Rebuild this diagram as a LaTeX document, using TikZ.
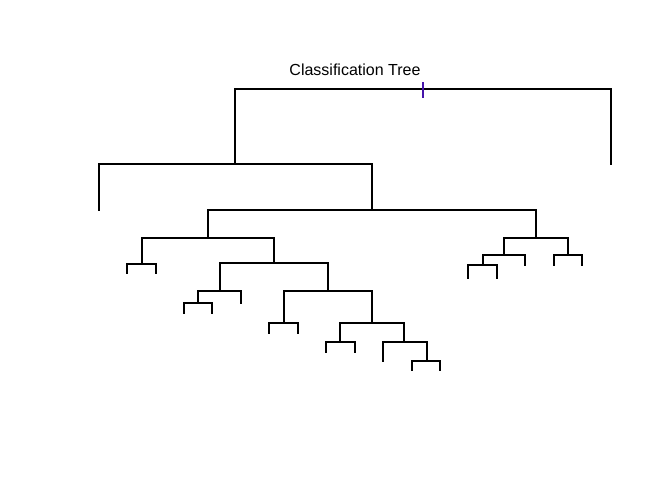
\documentclass[tikz,border=0pt]{standalone}
\usepackage{fontspec}
\setmainfont{Liberation Sans}
\usepackage{tikz}
\usepackage{xcolor}
\definecolor{tickviolet}{RGB}{70,20,170}
\tikzset{
    tree-edge/.style = {draw=black, line width=0.8pt, line cap=rect},
    tree-tick/.style = {draw=tickviolet, line width=0.8pt},
    tree-title/.style = {font=\fontsize{12}{14}\selectfont, inner sep=0pt},
}

\begin{document}
\begin{tikzpicture}[x=0.75pt, y=-0.75pt]
\useasboundingbox (0,0) rectangle (672,480);
\node[tree-title] (title) at (355,70) {Classification Tree};

% split points (x of the incoming leg, y of the bar)
\coordinate (n1) at (423,89);
\coordinate (n2) at (235,164);
\coordinate (n5) at (372,210);
\coordinate (n10) at (208,238);
\coordinate (n11) at (536,238);
\coordinate (n20) at (142,264);
\coordinate (n21) at (274,263);
\coordinate (n42) at (220,291);
\coordinate (n43) at (328,291);
\coordinate (n84) at (198,303);
\coordinate (n86) at (284,323);
\coordinate (n87) at (372,323);
\coordinate (n174) at (340,342);
\coordinate (n175) at (404,342);
\coordinate (n351) at (427,361);
\coordinate (n22) at (504,255);
\coordinate (n23) at (568,255);
\coordinate (n44) at (483,265);

% leaves
\coordinate (n3) at (611,164);
\coordinate (n4) at (99,210);
\coordinate (n40) at (127,273);
\coordinate (n41) at (156,273);
\coordinate (n85) at (241,303);
\coordinate (n168) at (184,313);
\coordinate (n169) at (212,313);
\coordinate (n172) at (269,333);
\coordinate (n173) at (298,333);
\coordinate (n348) at (326,352);
\coordinate (n349) at (355,352);
\coordinate (n350) at (383,361);
\coordinate (n702) at (412,370);
\coordinate (n703) at (440,370);
\coordinate (n88) at (468,278);
\coordinate (n89) at (497,278);
\coordinate (n45) at (525,265);
\coordinate (n46) at (554,265);
\coordinate (n47) at (582,265);

% branches
\draw[tree-edge] (n2) |- (n1) -| (n3);
\draw[tree-edge] (n4) |- (n2) -| (n5);
\draw[tree-edge] (n10) |- (n5) -| (n11);
\draw[tree-edge] (n20) |- (n10) -| (n21);
\draw[tree-edge] (n40) |- (n20) -| (n41);
\draw[tree-edge] (n42) |- (n21) -| (n43);
\draw[tree-edge] (n84) |- (n42) -| (n85);
\draw[tree-edge] (n168) |- (n84) -| (n169);
\draw[tree-edge] (n86) |- (n43) -| (n87);
\draw[tree-edge] (n172) |- (n86) -| (n173);
\draw[tree-edge] (n174) |- (n87) -| (n175);
\draw[tree-edge] (n348) |- (n174) -| (n349);
\draw[tree-edge] (n350) |- (n175) -| (n351);
\draw[tree-edge] (n702) |- (n351) -| (n703);
\draw[tree-edge] (n22) |- (n11) -| (n23);
\draw[tree-edge] (n44) |- (n22) -| (n45);
\draw[tree-edge] (n88) |- (n44) -| (n89);
\draw[tree-edge] (n46) |- (n23) -| (n47);

% root mark
\draw[tree-tick] ([yshift=5.25pt]n1) -- ([yshift=-6.75pt]n1);
\end{tikzpicture}
\end{document}
